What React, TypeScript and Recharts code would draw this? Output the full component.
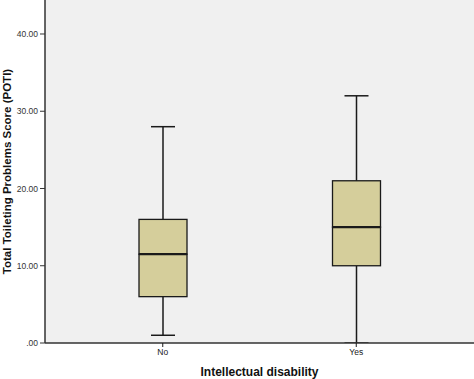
import { ComposedChart, Bar, XAxis, YAxis, CartesianGrid } from "recharts";

const groups = ["No", "Yes"];
const minValues = [1, 0];
const q1Values = [6, 10];
const medianValues = [11.5, 15];
const q3Values = [16, 21];
const maxValues = [28, 32];
const yTicks = [0, 10, 20, 30, 40];

const boxFill = "#d5ce9b";
const ink = "#1a1a1a";

const data = groups.map((g, i) => ({
  group: g,
  base: minValues[i],
  whiskerLow: q1Values[i] - minValues[i],
  boxLow: medianValues[i] - q1Values[i],
  boxHigh: q3Values[i] - medianValues[i],
  whiskerHigh: maxValues[i] - q3Values[i],
}));

const Empty = () => null;

const LowWhisker = (props: any) => {
  const { x, y, width, height } = props;
  const cx = x + width / 2;
  const cap = width / 4;
  return (
    <g>
      <line x1={cx} x2={cx} y1={y} y2={y + height} stroke={ink} strokeWidth={1.5} />
      <line x1={cx - cap} x2={cx + cap} y1={y + height} y2={y + height} stroke={ink} strokeWidth={1.5} />
    </g>
  );
};

const HighWhisker = (props: any) => {
  const { x, y, width, height } = props;
  const cx = x + width / 2;
  const cap = width / 4;
  return (
    <g>
      <line x1={cx} x2={cx} y1={y} y2={y + height} stroke={ink} strokeWidth={1.5} />
      <line x1={cx - cap} x2={cx + cap} y1={y} y2={y} stroke={ink} strokeWidth={1.5} />
    </g>
  );
};

const BoxPart = (props: any) => {
  const { x, y, width, height } = props;
  return <rect x={x} y={y} width={width} height={height} fill={boxFill} stroke={ink} strokeWidth={1.3} />;
};

const BoxTop = (props: any) => {
  const { x, y, width, height } = props;
  return (
    <g>
      <rect x={x} y={y} width={width} height={height} fill={boxFill} stroke={ink} strokeWidth={1.3} />
      <line x1={x} x2={x + width} y1={y + height} y2={y + height} stroke={ink} strokeWidth={2.2} />
    </g>
  );
};

const YTitle = (props: any) => {
  const vb = props.viewBox || { y: 0, height: 343 };
  const cy = vb.y + vb.height / 2;
  return (
    <text
      x={10.5}
      y={cy}
      transform={`rotate(-90, 10.5, ${cy})`}
      textAnchor="middle"
      fontSize={11.5}
      fontWeight="bold"
      fill="#111"
    >
      Total Toileting Problems Score (POTI)
    </text>
  );
};

export default function App() {
  return (
    <div style={{ position: "absolute", left: 0, top: 0, background: "#fff" }}>
      <ComposedChart
        width={474}
        height={379}
        data={data}
        margin={{ top: 0, right: 0, bottom: 0, left: 0 }}
        barSize={48}
        style={{ fontFamily: "Arial, 'Liberation Sans', sans-serif" }}
      >
        <CartesianGrid fill="#f0f0f0" horizontal={false} vertical={false} />
        <XAxis
          dataKey="group"
          height={36}
          padding={{ left: 21, right: 21 }}
          tick={{ fontSize: 8.5, fill: "#222" }}
          tickLine={{ stroke: ink }}
          tickSize={4}
          axisLine={{ stroke: "#333", strokeWidth: 1.5 }}
          label={{ value: "Intellectual disability", position: "insideBottom", offset: 3, fontSize: 12, fontWeight: "bold", fill: "#111" }}
        />
        <YAxis
          width={45}
          domain={[0, 44.4]}
          ticks={yTicks}
          allowDataOverflow
          tickFormatter={(v: number) => (v === 0 ? ".00" : v.toFixed(2))}
          tick={{ fontSize: 8.5, fill: "#333" }}
          tickLine={{ stroke: "#333" }}
          tickSize={5}
          axisLine={{ stroke: "#333", strokeWidth: 1.5 }}
          label={<YTitle />}
        />
        <Bar dataKey="base" stackId="b" shape={Empty} isAnimationActive={false} />
        <Bar dataKey="whiskerLow" stackId="b" shape={LowWhisker} isAnimationActive={false} />
        <Bar dataKey="boxLow" stackId="b" shape={BoxPart} isAnimationActive={false} />
        <Bar dataKey="boxHigh" stackId="b" shape={BoxTop} isAnimationActive={false} />
        <Bar dataKey="whiskerHigh" stackId="b" shape={HighWhisker} isAnimationActive={false} />
      </ComposedChart>
    </div>
  );
}
